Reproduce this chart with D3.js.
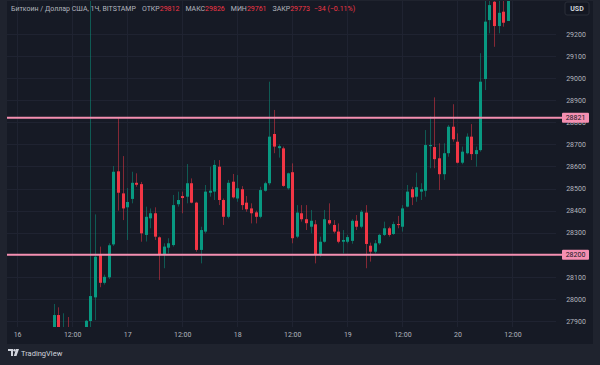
<!DOCTYPE html>
<html>
<head>
<meta charset="utf-8">
<script src="https://cdnjs.cloudflare.com/ajax/libs/d3/7.8.5/d3.min.js"></script>
<style>
html, body { margin: 0; padding: 0; background: #1f232e; overflow: hidden; }
svg { display: block; }
</style>
</head>
<body>
<div id="chart"></div>
<script>
// hours counted from 16th 00:00, 1H candles
var hours = [8, 9, 10, 11, 15, 16, 17, 18, 19, 20, 21, 22, 23,
  24, 25, 26, 27, 28, 29, 30, 31, 32, 33, 34, 35, 36, 37, 38, 39, 40, 41, 42, 43, 44, 45, 46, 47,
  48, 49, 50, 51, 52, 53, 54, 55, 56, 57, 58, 59, 60, 61, 62, 63, 64, 65, 66, 67, 68, 69, 70, 71,
  72, 73, 74, 75, 76, 77, 78, 79, 80, 81, 82, 83, 84, 85, 86, 87, 88, 89, 90, 91, 92, 93, 94, 95,
  96, 97, 98, 99, 100, 101, 102, 103, 104, 105, 106, 107];
var opens = [27860, 27927, 27830, 27840, 27850, 27900, 28007, 28203, 28073, 28098, 28247, 28578, 28478,
  28415, 28453, 28526, 28520, 28290, 28365, 28388, 28279, 28199, 28232, 28244, 28429, 28466, 28463, 28524, 28436, 28222, 28305, 28481, 28486, 28599, 28448, 28372, 28531,
  28455, 28497, 28436, 28410, 28392, 28372, 28490, 28524, 28747, 28683, 28682, 28501, 28574, 28282, 28388, 28361, 28327, 28338, 28199, 28259, 28357, 28335, 28305, 28259,
  28259, 28263, 28354, 28327, 28391, 28241, 28214, 28252, 28290, 28320, 28294, 28339, 28327, 28418, 28497, 28463, 28486, 28490, 28692, 28688, 28637, 28565, 28660, 28780,
  28712, 28617, 28660, 28735, 28656, 28674, 28996, 29263, 29346, 29236, 29301, 29259];
var highs = [27977, 27962, 27935, 27918, 27905, 29500, 28383, 28237, 28110, 28252, 28602, 28818, 28647,
  28502, 28576, 28569, 28530, 28418, 28410, 28415, 28283, 28252, 28275, 28471, 28486, 28486, 28611, 28546, 28440, 28327, 28516, 28599, 28629, 28629, 28455, 28539, 28566,
  28561, 28511, 28466, 28433, 28400, 28508, 28531, 28984, 28856, 28700, 28690, 28572, 28614, 28425, 28425, 28425, 28403, 28357, 28282, 28403, 28433, 28357, 28342, 28312,
  28290, 28361, 28380, 28403, 28425, 28255, 28267, 28295, 28350, 28327, 28350, 28376, 28425, 28516, 28508, 28572, 28524, 28765, 28826, 28913, 28705, 28705, 28788, 28882,
  28750, 28690, 28750, 28792, 28690, 29113, 29360, 29400, 29400, 29380, 29380, 29420];
var lows = [27840, 27830, 27800, 27790, 27830, 27800, 27904, 28053, 28065, 28090, 28240, 28400, 28357,
  28267, 28433, 28508, 28259, 28260, 28320, 28267, 28086, 28139, 28206, 28237, 28418, 28388, 28433, 28433, 28214, 28161, 28297, 28463, 28448, 28425, 28335, 28365, 28455,
  28440, 28403, 28395, 28342, 28342, 28365, 28486, 28515, 28660, 28640, 28508, 28495, 28252, 28275, 28350, 28312, 28297, 28161, 28191, 28255, 28335, 28297, 28252, 28206,
  28252, 28250, 28312, 28320, 28139, 28169, 28206, 28245, 28285, 28282, 28290, 28320, 28305, 28415, 28425, 28440, 28448, 28463, 28592, 28592, 28493, 28539, 28644, 28712,
  28614, 28610, 28655, 28629, 28599, 28667, 28946, 29203, 29142, 29203, 29233, 29259];
var closes = [27927, 27860, 27845, 27810, 27901, 28013, 28191, 28073, 28100, 28243, 28576, 28481, 28410,
  28439, 28526, 28517, 28297, 28372, 28388, 28282, 28199, 28237, 28252, 28425, 28448, 28457, 28524, 28436, 28222, 28312, 28486, 28490, 28607, 28448, 28372, 28526, 28460,
  28501, 28425, 28406, 28388, 28372, 28493, 28524, 28735, 28690, 28692, 28512, 28569, 28275, 28391, 28361, 28343, 28354, 28199, 28259, 28361, 28342, 28305, 28259, 28267,
  28280, 28354, 28327, 28395, 28249, 28214, 28252, 28290, 28320, 28290, 28339, 28335, 28410, 28486, 28460, 28506, 28497, 28697, 28697, 28633, 28565, 28660, 28780, 28723,
  28617, 28667, 28735, 28656, 28674, 28984, 29256, 29331, 29236, 29296, 29251, 29380];

var priceTicks = [27900, 28000, 28100, 28200, 28300, 28400, 28500, 28600, 28700, 28800, 28900, 29000, 29100, 29200];
var timeTicks = [0, 12, 24, 36, 48, 60, 72, 84, 96, 108];
var timeLabels = ["16", "12:00", "17", "12:00", "18", "12:00", "19", "12:00", "20", "12:00"];
var levels = [28821, 28200];

var titleText = "Биткоин / Доллар США, 1Ч, BITSTAMP";
var ohlcNames = ["ОТКР", "МАКС", "МИН", "ЗАКР"];
var ohlcValues = ["29812", "29826", "29761", "29773"];
var changeText = "−34 (−0.11%)";

var W = 600, H = 365;
var plotL = 7, plotR = 556, plotT = 1, plotB = 327;
var up = "#089981", down = "#f23645", pink = "#f48fb1";
var font = "Roboto, 'Liberation Sans', sans-serif";

var candles = hours.map(function(h, i) {
  return {h: h, o: opens[i], hi: highs[i], lo: lows[i], c: closes[i]};
});

var x = d3.scaleLinear().domain([-2.2, 117.5]).range([plotL, plotR]);
var y = d3.scaleLinear().domain([27900, 29200]).range([321, 34]);

var svg = d3.select("#chart").append("svg")
  .attr("width", W).attr("height", H);

// panels
svg.append("rect").attr("width", W).attr("height", H).attr("fill", "#1f232e");
svg.append("rect").attr("x", plotL).attr("y", plotT).attr("width", 593 - plotL).attr("height", 344 - plotT)
  .attr("fill", "#161a25");

svg.append("clipPath").attr("id", "plotclip")
  .append("rect").attr("x", plotL).attr("y", plotT).attr("width", plotR - plotL).attr("height", plotB - plotT);

// grid
var grid = svg.append("g").attr("clip-path", "url(#plotclip)");
grid.selectAll("line.h").data(priceTicks).enter().append("line")
  .attr("x1", plotL).attr("x2", plotR)
  .attr("y1", function(d) { return Math.round(y(d)) + 0.5; })
  .attr("y2", function(d) { return Math.round(y(d)) + 0.5; })
  .attr("stroke", "#1f2331").attr("stroke-width", 1);
grid.selectAll("line.v").data(timeTicks).enter().append("line")
  .attr("y1", plotT).attr("y2", plotB)
  .attr("x1", function(d) { return Math.round(x(d)) + 0.5; })
  .attr("x2", function(d) { return Math.round(x(d)) + 0.5; })
  .attr("stroke", "#1f2331").attr("stroke-width", 1);

// candles
var plot = svg.append("g").attr("clip-path", "url(#plotclip)");
var g = plot.selectAll("g.candle").data(candles).enter().append("g");
g.append("line")
  .attr("x1", function(d) { return Math.round(x(d.h)) + 0.5; })
  .attr("x2", function(d) { return Math.round(x(d.h)) + 0.5; })
  .attr("y1", function(d) { return y(d.hi); })
  .attr("y2", function(d) { return y(d.lo); })
  .attr("stroke", function(d) { return d.c >= d.o ? up : down; })
  .attr("stroke-opacity", 0.5)
  .attr("stroke-width", 1);
g.append("rect")
  .attr("x", function(d) { return Math.round(x(d.h)) - 1; })
  .attr("width", 3)
  .attr("y", function(d) { return y(Math.max(d.o, d.c)); })
  .attr("height", function(d) { return Math.max(1, Math.abs(y(d.o) - y(d.c))); })
  .attr("fill", function(d) { return d.c >= d.o ? up : down; });

// level lines
svg.selectAll("line.level").data(levels).enter().append("line")
  .attr("x1", plotL).attr("x2", 562)
  .attr("y1", function(d) { return y(d); }).attr("y2", function(d) { return y(d); })
  .attr("stroke", pink).attr("stroke-width", 2);

// price axis
var yAxis = svg.append("g").attr("transform", "translate(" + plotR + ",0)")
  .call(d3.axisRight(y).tickValues(priceTicks).tickSize(0).tickFormat(d3.format("d")));
yAxis.select(".domain").remove();
yAxis.selectAll("text")
  .attr("x", 20).attr("text-anchor", "middle")
  .attr("fill", "#b2b5be").style("font-family", font).style("font-size", "7px");

// level labels
var lab = svg.selectAll("g.lvl").data(levels).enter().append("g");
lab.append("rect")
  .attr("x", 562).attr("width", 27)
  .attr("y", function(d) { return y(d) - 5; }).attr("height", 10)
  .attr("rx", 1).attr("fill", pink);
lab.append("text")
  .attr("x", 575.5).attr("y", function(d) { return y(d); }).attr("dy", "0.35em")
  .attr("text-anchor", "middle").attr("fill", "#131722")
  .style("font-family", font).style("font-size", "7px")
  .text(function(d) { return d; });

// time axis
var xAxis = svg.append("g").attr("transform", "translate(0," + plotB + ")")
  .call(d3.axisBottom(x).tickValues(timeTicks).tickSize(0).tickPadding(5)
    .tickFormat(function(d, i) { return timeLabels[i]; }));
xAxis.select(".domain").remove();
xAxis.selectAll("text")
  .attr("fill", "#b2b5be").style("font-family", font).style("font-size", "7px");

// currency box
svg.append("rect").attr("x", 565).attr("y", 2).attr("width", 24).attr("height", 13).attr("rx", 2)
  .attr("fill", "#131722").attr("stroke", "#2a2e39");
svg.append("text").attr("x", 577).attr("y", 8.5).attr("dy", "0.35em").attr("text-anchor", "middle")
  .attr("fill", "#d1d4dc").style("font-family", font).style("font-size", "7px").style("font-weight", "bold")
  .text("USD");

// header
var head = svg.append("text").attr("x", 11).attr("y", 11)
  .style("font-family", font).style("font-size", "7px").attr("fill", "#b2b5be");
head.append("tspan").text(titleText);
ohlcNames.forEach(function(n, i) {
  head.append("tspan").attr("dx", 6).text(n);
  head.append("tspan").attr("fill", down).text(ohlcValues[i]);
});
head.append("tspan").attr("dx", 4).attr("fill", down).text(changeText);

// TradingView mark
var logo = svg.append("g").attr("transform", "translate(8,349)").attr("fill", "#d1d4dc");
logo.append("path").attr("d", "M0,0H5V7H3V2H0Z");
logo.append("circle").attr("cx", 6.5).attr("cy", 1.2).attr("r", 1.2);
logo.append("path").attr("d", "M8,0H11L8.5,7H5.8Z");
svg.append("text").attr("x", 21).attr("y", 356)
  .attr("fill", "#d1d4dc").style("font-family", font).style("font-size", "7.5px")
  .text("TradingView");
</script>
</body>
</html>
